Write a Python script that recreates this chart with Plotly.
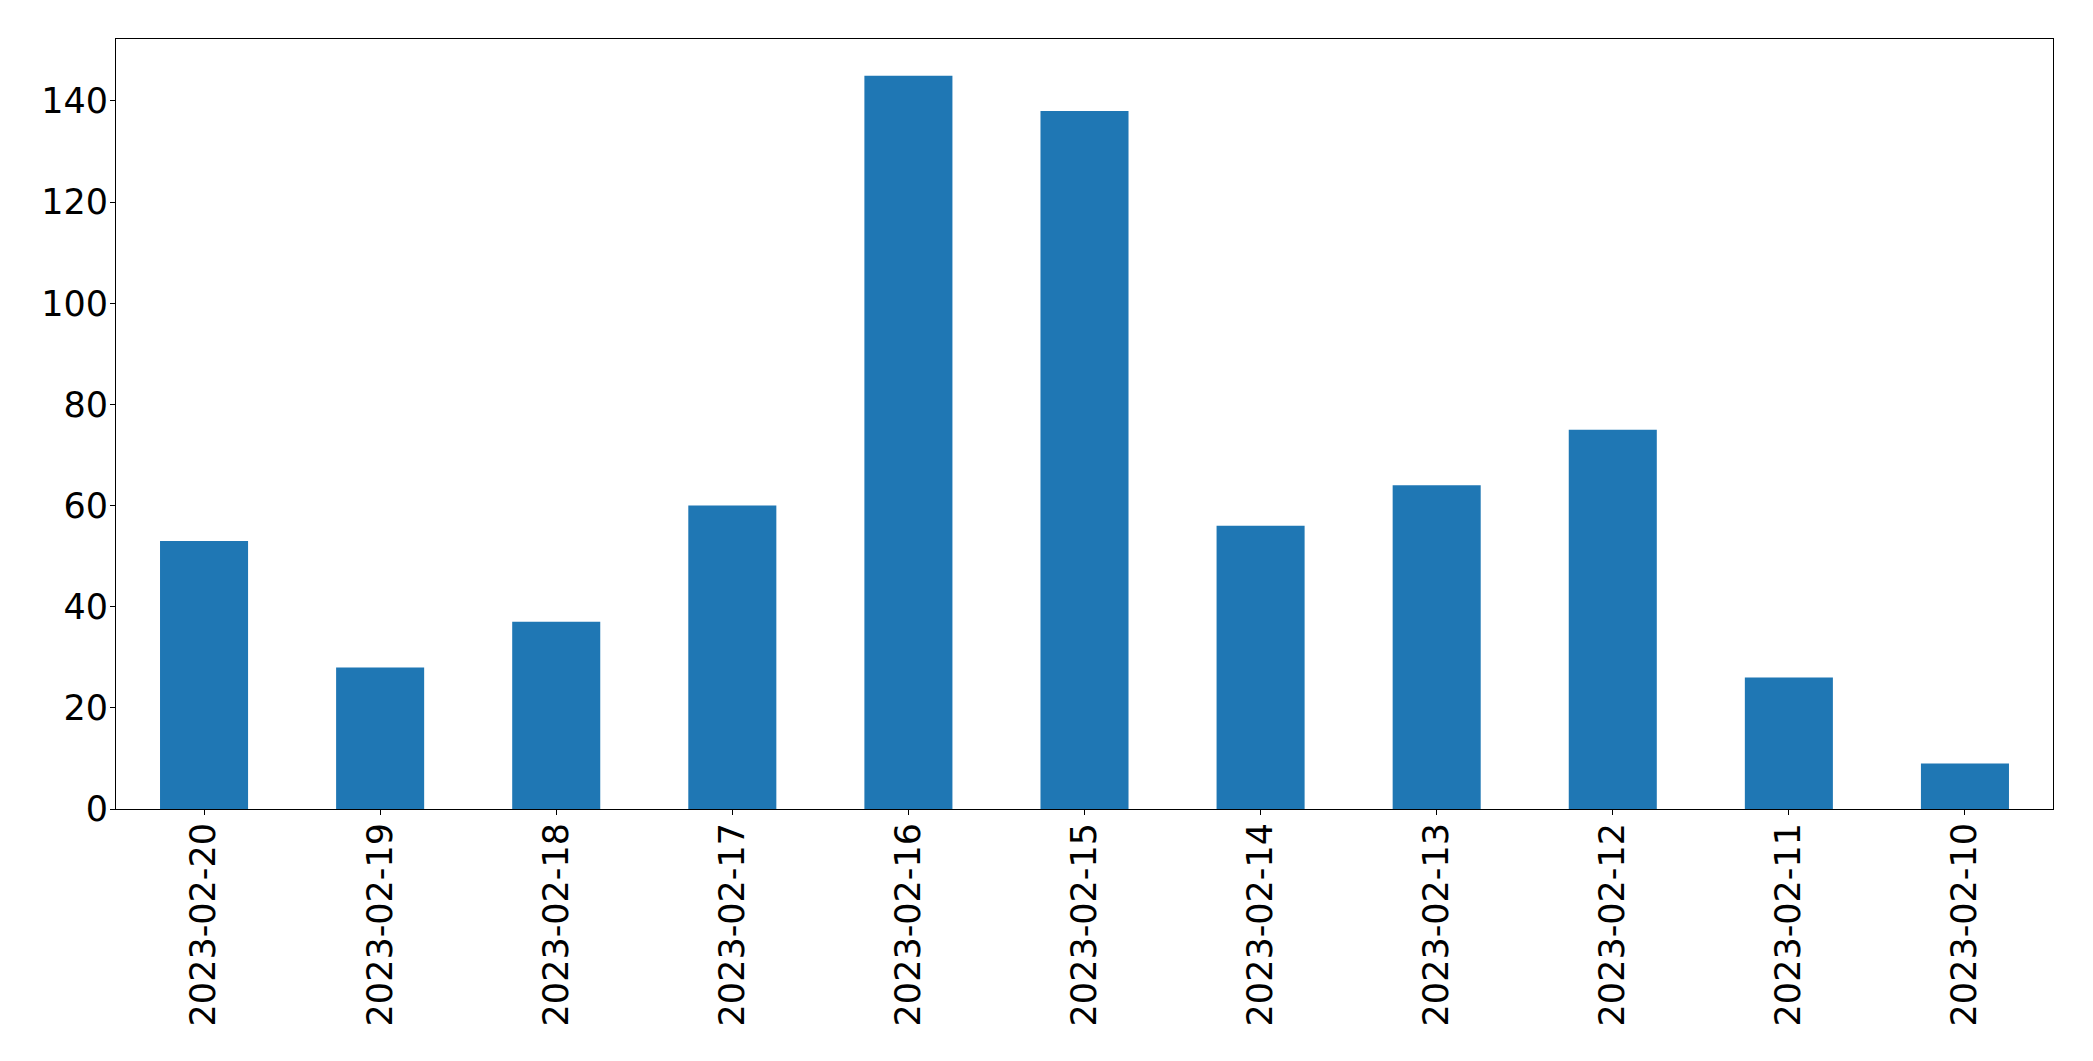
import plotly.graph_objects as go

dates = ["2023-02-20", "2023-02-19", "2023-02-18", "2023-02-17", "2023-02-16",
         "2023-02-15", "2023-02-14", "2023-02-13", "2023-02-12", "2023-02-11", "2023-02-10"]
counts = [53, 28, 37, 60, 145, 138, 56, 64, 75, 26, 9]
y_ticks = [0, 20, 40, 60, 80, 100, 120, 140]

fig = go.Figure(go.Bar(x=list(range(len(dates))), y=counts, width=0.5,
                       marker=dict(color="#1f77b4", line=dict(width=0))))

font = dict(family="DejaVu Sans", size=35, color="black")
fig.update_layout(
    width=2093, height=1061,
    margin=dict(l=108, r=48, t=31, b=260),
    plot_bgcolor="white", paper_bgcolor="white",
    showlegend=False,
    font=font,
)
fig.update_xaxes(
    range=[-0.5, len(dates) - 0.5],
    tickmode="array", tickvals=list(range(len(dates))), ticktext=dates,
    tickangle=-90, ticks="outside", ticklen=5, tickwidth=1, tickcolor="black",
    ticklabelstandoff=-6,
    showline=True, linecolor="black", linewidth=1, mirror=True,
    showgrid=False, zeroline=False, tickfont=font,
)
fig.update_yaxes(
    range=[0, max(counts) * 1.05],
    tickmode="array", tickvals=y_ticks,
    ticks="outside", ticklen=5, tickwidth=1, tickcolor="black",
    ticklabelstandoff=-5,
    showline=True, linecolor="black", linewidth=1, mirror=True,
    showgrid=False, zeroline=False, tickfont=font,
)
fig.write_html("out.html")
